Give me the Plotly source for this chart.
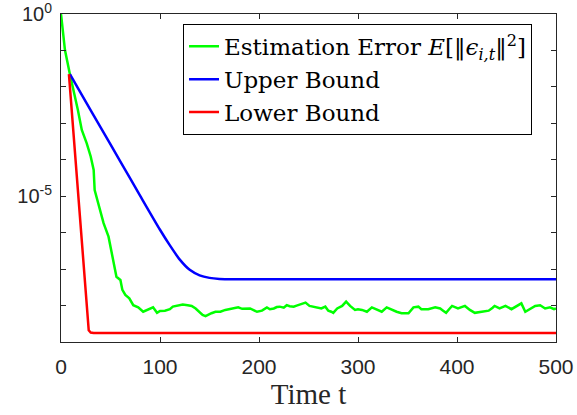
import numpy as np
import plotly.graph_objects as go

# ---- data (y stored as log10) ----
t_green = [0, 4, 9, 14, 17, 21, 26, 30, 33, 34, 39, 43, 48, 50, 52, 56, 60, 62, 65, 69, 73, 78, 83,
           88, 93, 97, 100, 105, 110, 113, 118, 123, 128, 132, 136, 140, 143, 146, 149, 152, 156, 161,
           166, 171, 175, 179, 183, 186, 191, 195, 198, 203, 208, 211, 215, 218, 221, 225, 228, 231,
           235, 238, 241, 244, 247, 251, 255, 258, 263, 267, 270, 273, 275, 279, 284, 288, 292, 297,
           300, 304, 309, 314, 319, 324, 329, 334, 339, 344, 351, 356, 361, 364, 371, 378, 383, 386,
           389, 392, 395, 401, 404, 408, 413, 418, 425, 432, 436, 438, 443, 449, 455, 460, 465, 469,
           474, 479, 484, 489, 494, 498, 500]
log_green = [0.0, -0.99, -1.65, -2.22, -2.63, -3.18, -3.55, -3.91, -4.28, -4.83, -5.38, -5.74, -6.11,
             -6.39, -6.75, -7.21, -7.30, -7.57, -7.71, -7.80, -7.99, -8.05, -8.17, -8.12, -8.05, -8.20,
             -8.15, -8.14, -8.10, -8.03, -8.00, -7.97, -7.99, -8.01, -8.08, -8.20, -8.26, -8.29, -8.24,
             -8.21, -8.17, -8.17, -8.12, -8.10, -8.08, -8.05, -8.09, -8.08, -8.08, -8.13, -8.17, -8.14,
             -8.05, -8.10, -8.08, -8.04, -8.03, -8.06, -7.99, -8.02, -8.03, -8.00, -7.97, -7.95, -7.92,
             -8.01, -8.04, -8.05, -8.08, -8.03, -8.14, -8.17, -8.20, -8.08, -8.01, -7.89, -8.01, -8.12,
             -8.10, -8.12, -8.17, -8.05, -8.10, -8.17, -8.05, -8.12, -8.17, -8.21, -8.21, -8.05, -8.03,
             -8.10, -8.10, -8.05, -8.08, -8.14, -8.20, -8.10, -8.01, -8.08, -8.05, -8.01, -8.12, -8.20,
             -8.17, -8.14, -8.06, -8.01, -8.08, -8.01, -8.10, -8.03, -7.94, -8.17, -8.08, -8.01, -7.99,
             -8.08, -8.05, -8.10, -8.08]

t_upper = [9, 20, 40, 60, 80, 100, 110, 120, 130, 140, 150, 160, 175, 200, 500]
log_upper = [-1.65, -2.17, -3.11, -4.05, -4.99, -5.92, -6.35, -6.74, -7.02, -7.17, -7.24, -7.27,
             -7.28, -7.28, -7.28]

t_lower = [8, 12, 16, 20, 24, 26, 27, 28, 30, 33, 500]
log_lower = [-1.65, -3.11, -4.57, -6.03, -7.49, -8.20, -8.50, -8.68, -8.74, -8.75, -8.75]

x_ticks = [0, 100, 200, 300, 400, 500]
y_major = [1e0, 1e-5]
y_major_text = ["10<sup>0</sup>", "10<sup>-5</sup>"]
y_minor = [1e-1, 1e-2, 1e-3, 1e-4, 1e-6, 1e-7, 1e-8]

names = ["Estimation Error <i>E</i>[‖<i>ϵ</i><sub><i>i,t</i></sub>‖<sup>2</sup>]",
         "Upper Bound", "Lower Bound"]

fig = go.Figure()
fig.add_trace(go.Scatter(x=t_green, y=10 ** np.array(log_green), mode="lines",
                         line=dict(color="#00ff00", width=2.5), name=names[0]))
fig.add_trace(go.Scatter(x=t_upper, y=10 ** np.array(log_upper), mode="lines",
                         line=dict(color="#0000ff", width=2.5, shape="spline", smoothing=0.6),
                         name=names[1]))
fig.add_trace(go.Scatter(x=t_lower, y=10 ** np.array(log_lower), mode="lines",
                         line=dict(color="#ff0000", width=2.5), name=names[2]))

axcol = "#262626"
xtickfont = dict(family="Liberation Sans, Arial, sans-serif", size=21, color=axcol)
ytickfont = dict(family="Liberation Sans, Arial, sans-serif", size=20, color=axcol)

fig.update_layout(
    width=577, height=415,
    margin=dict(l=61, r=21, t=14, b=73, autoexpand=False),
    paper_bgcolor="white", plot_bgcolor="white",
    showlegend=True,
    legend=dict(x=0.2465, y=0.970, xanchor="left", yanchor="top",
                bgcolor="white", bordercolor="black", borderwidth=1,
                font=dict(family="DejaVu Serif, serif", size=23, color="black"),
                itemwidth=30, tracegroupgap=0),
    xaxis=dict(range=[0, 500], tickvals=x_ticks, ticks="inside", ticklen=5, tickcolor=axcol,
               showline=True, linecolor=axcol, linewidth=1, mirror="ticks",
               showgrid=False, zeroline=False, tickfont=xtickfont, automargin=False,
               ticklabelstandoff=6, ticklabeloverflow="allow",
               title=dict(text="Time t", standoff=5,
                          font=dict(family="Liberation Serif, Times New Roman, serif", size=29,
                                    color=axcol))),
    yaxis=dict(type="log", range=[-9, 0], tickvals=y_major, ticktext=y_major_text,
               ticks="inside", ticklen=5, tickcolor=axcol,
               minor=dict(tickvals=y_minor, ticks="inside", ticklen=5, tickcolor=axcol),
               showline=True, linecolor=axcol, linewidth=1, mirror="ticks",
               showgrid=False, zeroline=False, tickfont=ytickfont, automargin=False,
               ticklabelstandoff=4, ticklabeloverflow="allow"),
)

fig.write_html("out.html", config={"displayModeBar": False},
               post_script="document.body.style.margin='0';document.body.style.overflow='hidden';")
